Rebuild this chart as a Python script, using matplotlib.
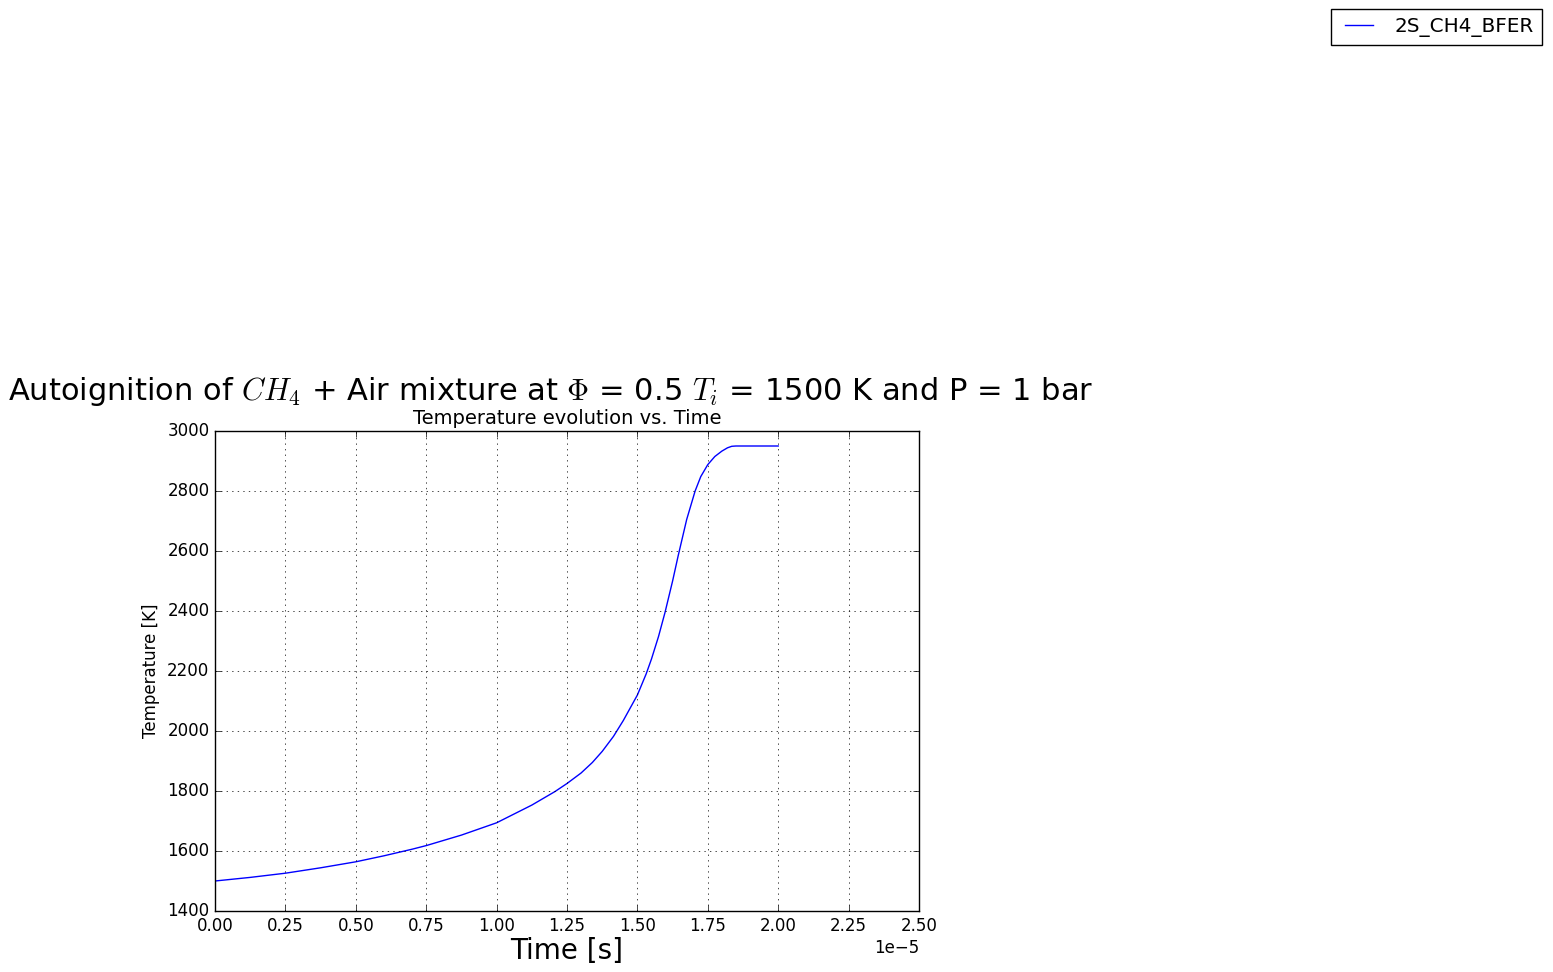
import matplotlib
matplotlib.use("Agg")
import matplotlib.pyplot as plt
from matplotlib.ticker import MultipleLocator

plt.style.use("classic")

# time in units of 1e-5 s, temperature in K
time_e5 = [0.000, 0.125, 0.250, 0.375, 0.500, 0.600, 0.700, 0.750, 0.875, 1.000,
           1.125, 1.207, 1.250, 1.300, 1.340, 1.375, 1.415, 1.450, 1.500, 1.531,
           1.550, 1.575, 1.598, 1.625, 1.645, 1.675, 1.705, 1.725, 1.750, 1.775,
           1.800, 1.820, 1.835, 1.850, 1.900, 2.000]
temperature = [1500, 1512, 1526, 1544, 1564, 1584, 1606, 1618, 1653, 1694,
               1753, 1798, 1825, 1860, 1895, 1932, 1982, 2035, 2120, 2190,
               2240, 2315, 2395, 2500, 2585, 2705, 2800, 2848, 2888, 2915,
               2933, 2944, 2949, 2950, 2950, 2950]
series_name = "2S_CH4_BFER"

time_s = [t * 1e-5 for t in time_e5]

fig = plt.figure(figsize=(15.53, 9.72), dpi=100)
fig.patch.set_facecolor("white")
ax = fig.add_axes([215 / 1553, 1 - 911 / 972, (919 - 215) / 1553, (911 - 431) / 972])

ax.plot(time_s, temperature, color="b", linewidth=1, label=series_name)

ax.set_xlim(0, 2.5e-5)
ax.set_ylim(1400, 3000)
ax.xaxis.set_major_locator(MultipleLocator(0.25e-5))
ax.yaxis.set_major_locator(MultipleLocator(200))
ax.ticklabel_format(style="sci", axis="x", scilimits=(0, 0))
ax.xaxis.get_offset_text().set_fontsize(12)
ax.tick_params(labelsize=12)
ax.grid(True)

ax.set_title("Temperature evolution vs. Time", fontsize=14)
ax.set_xlabel("Time [s]", fontsize=20, labelpad=2)
ax.set_ylabel("Temperature [K]", fontsize=12)

fig.text(551 / 1553, 1 - 392 / 972,
         r"Autoignition of $CH_4$ + Air mixture at $\Phi$ = 0.5 $T_i$ = 1500 K and P = 1 bar",
         fontsize=22, ha="center", va="center")

ax.legend(loc="upper right", bbox_to_anchor=(1542 / 1553, 1 - 9 / 972),
          bbox_transform=fig.transFigure, borderaxespad=0, fontsize=14.4)

fig.savefig("out.png", dpi=100, facecolor="white")
